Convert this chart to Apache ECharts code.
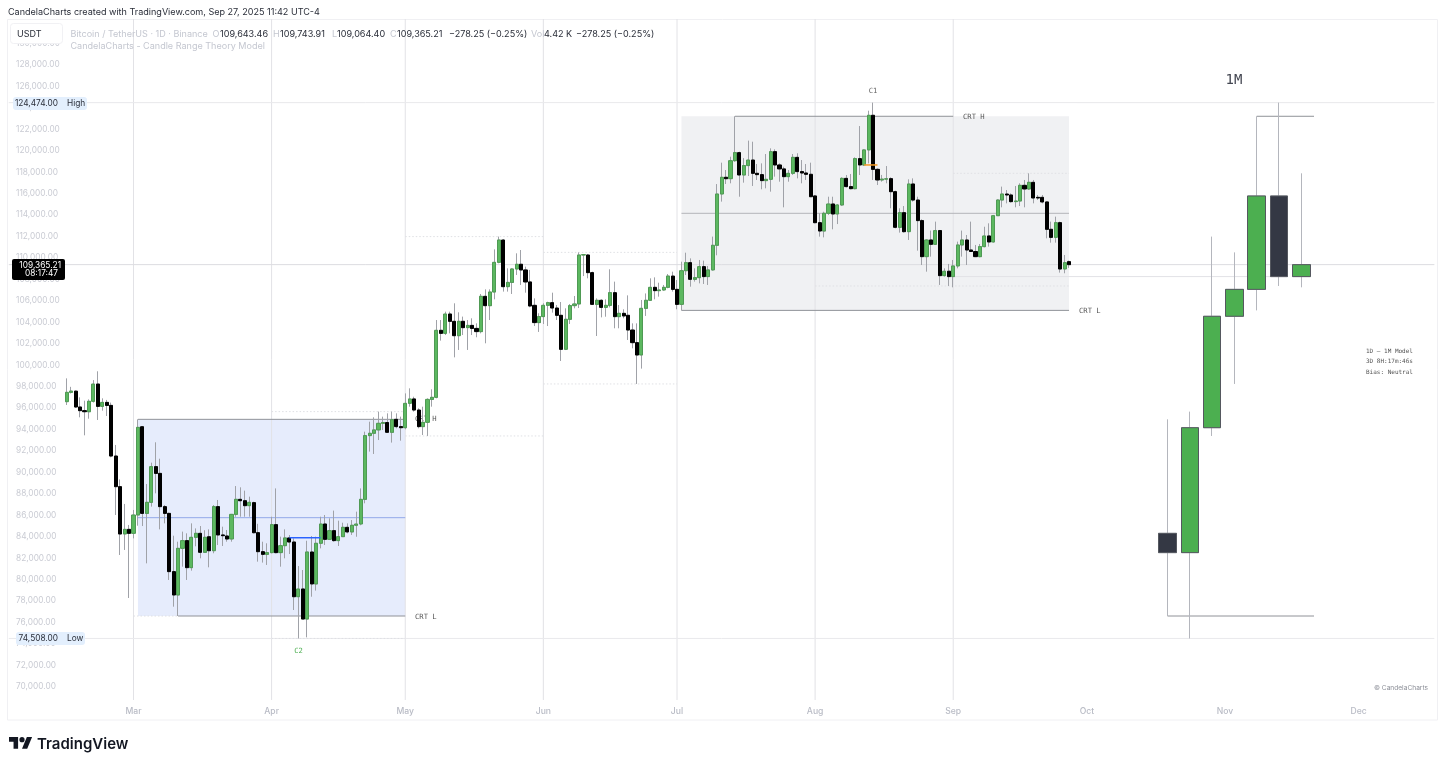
<!DOCTYPE html>
<html><head><meta charset="utf-8">
<style>html,body{margin:0;padding:0;background:#fff}#c{width:1445px;height:766px}</style>
<script src="https://cdn.jsdelivr.net/npm/echarts@6/dist/echarts.min.js"></script>
</head><body><div id="c"></div>
<script>
// Daily candles, 14 Feb 2025 .. 27 Sep 2025
const firstCandleDate = '2025-02-14';
const dailyOpen = [
96587,97457,97570,96090,95750,95650,96620,98230,96150,96520,96240,91520,88660,84250,84680,
84310,86020,94250,86170,87200,90530,89900,86800,86170,80740,78560,82910,83630,81110,83940,84310,82540,83990,82690,86800,84160,84060,83780,86080,87480,87350,86890,87170,84370,82600,82350,
82510,85120,82510,83160,83880,83500,78400,79120,76320,82570,79590,83380,85180,83750,84560,83630,84000,84870,84440,85060,85180,87480,93420,93640,93950,94570,94640,93730,94940,94260,
94160,96430,96840,95810,94260,94660,96800,96990,103240,102960,104760,104080,102740,104080,103490,103700,103420,103120,106410,105540,106810,109580,111660,107310,107710,108960,109400,108870,107750,105570,103960,
104520,105570,105820,105320,104640,101470,104270,105540,105700,110260,110260,108620,105660,106040,105380,105570,106750,104515,104825,104640,103270,102090,100940,105290,106040,107250,106940,107000,107250,108300,
107060,105660,108800,109550,107995,108150,109180,108250,108870,111170,115950,117510,117380,119060,119810,117725,118600,119120,117880,117760,117200,117320,119900,118660,118290,117570,117880,119370,118040,117910,117790,
115770,113280,112500,114150,115020,114090,114930,117410,116640,116450,119250,118660,120060,123290,118250,117260,117340,117380,116170,112845,114210,112440,116885,115390,113470,110110,111665,111260,112540,108340,108750,
108250,109240,111200,111665,110730,110590,110110,111045,112040,111480,113930,115390,115950,115860,115240,115300,116760,116420,117040,115640,115640,115210,112660,111910,113280,108960,109643];
const dailyClose = [
97457,97570,96090,95750,95650,96620,98230,96150,96520,96240,91520,88660,84250,84680,84310,
86020,94190,86170,87200,90530,89900,86800,86170,80740,78560,82910,83630,81110,83940,84310,82540,83940,82690,86800,84160,84090,83780,86080,87480,87350,86890,87200,84370,82600,82350,82510,
85120,82510,83160,83880,83500,78400,79120,76320,82570,79590,83380,85180,83750,84560,83630,84000,84870,84440,85060,85180,87480,93420,93640,93950,94570,94640,93730,94910,94260,94160,
96430,96840,95810,94260,94660,96800,96990,103240,102960,104760,104080,102740,104080,103490,103700,103420,103120,106410,105540,106810,109580,111660,107310,107710,108960,109400,108870,107750,105510,103960,104520,
105570,105820,105320,104640,101470,104270,105540,105700,110260,110300,108620,105660,106040,105380,105570,106750,104515,104825,104580,103270,102090,100940,105290,106040,107250,106940,107000,107250,108300,107060,
105660,108800,109550,107995,108150,109180,108250,108870,111170,115950,117510,117380,119060,119810,117725,118600,119120,117880,117760,117200,117320,119900,118660,118290,117570,117880,119370,118040,117910,117790,115700,
113280,112500,114150,115020,114090,114930,117410,116640,116450,119250,118660,120060,123290,118250,117260,117340,117370,116170,112845,114210,112440,116885,115390,113470,110110,111665,111260,112540,108340,108750,108250,
109240,111200,111665,110730,110590,110110,111045,112040,111480,113930,115390,115950,115860,115240,115300,116760,116420,117040,115580,115580,115210,112660,111910,113280,108960,109550,109365];
const dailyLow = [
96276,97350,96000,95130,93450,95000,96500,94880,95750,95250,91400,86020,82290,82760,78280,
83840,85020,84990,81510,86800,88040,84680,85240,79960,77470,76600,81200,79960,80830,83100,81980,82500,81140,82450,83220,83130,83530,83530,85860,85860,85860,85860,84300,81670,81580,81360,
82450,82450,81200,81980,82380,77160,74508,76320,74610,78400,78970,82910,83220,83690,83530,83130,83990,84310,84160,83990,85060,87110,91930,91710,93010,93950,93730,92770,94100,92950,
94010,96120,95660,94100,93480,93390,96120,96900,102280,102800,102960,100720,101410,102800,101410,102800,102590,102960,102030,104200,106130,109490,106850,106850,106630,108400,107470,106750,105390,103640,103090,
103830,103640,104890,104200,100380,101400,103830,105290,105320,108300,108090,105600,102710,104450,104510,105380,103430,103430,104360,102340,101560,98240,99670,104580,106010,106130,106380,106940,107160,106850,
105200,105100,108400,107310,107780,107620,107560,107470,108810,110235,115240,116885,116950,118950,115700,117010,117630,116700,117260,116390,116480,116170,117570,117100,114710,117100,117730,117410,116950,117260,115700,
113220,111975,111910,113990,112660,113150,114830,116570,116390,116390,117725,118560,118810,117260,116790,117100,116950,114620,112750,112350,112350,111665,115240,110670,109330,108710,110110,111200,107470,108250,107375,
107250,109020,110110,109330,110580,110110,110050,110980,111045,111420,113900,114710,115080,115150,114710,114830,114710,116325,115080,115390,115080,111820,111415,111415,108620,108560,109064];
const dailyHigh = [
98760,97970,97600,96990,96680,96800,98600,99420,96900,96750,96500,92550,89340,87050,85090,
86490,94940,94320,88910,90900,92800,91270,86950,86240,84090,83530,84470,84310,85240,84770,84990,84600,84680,86950,87420,84930,84620,86100,88720,88600,88290,87730,87260,85200,83530,83380,
85860,88500,84000,84680,84150,83840,81260,80890,83620,84060,84000,85860,86020,85710,86430,85490,85300,85240,85550,86330,88500,93790,94720,95130,95660,95190,95500,95660,95500,95190,
97360,97830,97050,95970,96120,96900,97740,104200,104200,104980,104980,105760,104920,104520,104200,104360,103890,106630,107060,107060,110790,111980,111730,109020,109020,110420,110730,109180,108870,106220,104830,
105760,105910,106750,105600,105880,105290,105690,106440,110510,110300,110360,108710,106220,106130,106130,108930,107780,105600,105200,106500,103890,103890,106070,106680,108090,108180,107680,107470,108490,108710,
107930,109640,110480,109950,109020,109800,109740,109240,111980,116880,118875,118190,119430,123200,119900,119300,120930,120830,118750,118810,119680,120210,120120,118810,118500,118190,119680,119750,119120,118750,118875,
115860,114150,114300,115700,115700,115020,117510,117725,117820,119370,122290,120120,123720,124474,118350,117730,118560,117510,116260,114620,114830,117320,117410,115700,113590,111730,112540,113375,112600,109020,109430,
109800,111510,112540,112130,113375,111200,111290,112900,113220,114000,115460,116640,116320,116010,116700,116950,117260,117880,117260,115860,115860,115240,113375,113840,113375,110265,109744];

// Monthly candles shown on the right
const monthNames = ['Mar','Apr','May','Jun','Jul','Aug','Sep'];
const monthOpen  = [84310,82510,94160,104550,107060,115770,108250];
const monthClose = [82510,94160,104550,107060,115770,108250,109365];
const monthLow   = [76600,74508,93390,98240,105100,107375,107250];
const monthHigh  = [94940,95660,111980,110510,123200,124474,117880];

// Levels
const crtBlue = {from:'2025-03-02', to:'2025-05-01', high:94940, low:76600, mid:85770};
const crtGray = {from:'2025-07-02', to:'2025-09-27', high:123200, low:105100, mid:114150};
const solidLevels = [
  ['2025-03-02','2025-05-01',94940],['2025-03-11','2025-05-01',76600],
  ['2025-07-14','2025-09-01',123200],['2025-07-02','2025-09-27',105100]];
const dottedLevels = [
  ['2025-03-01','2025-03-11',76600],['2025-04-01','2025-05-01',95660],['2025-04-01','2025-05-01',74508],
  ['2025-05-01','2025-06-01',111980],['2025-05-01','2025-06-01',93390],
  ['2025-06-01','2025-07-01',110510],['2025-06-01','2025-07-01',98240],
  ['2025-08-01','2025-09-27',107375],['2025-09-01','2025-09-27',117880]];
const blueStub = ['2025-04-05','2025-04-12',83900];
const orangeStub = ['2025-08-12','2025-08-15',118660];
const priceHigh = 124474, priceLow = 74508, priceLast = 109365.21, prevMonthOpen = 108250;
const monthStarts = ['2025-03-01','2025-04-01','2025-05-01','2025-06-01','2025-07-01','2025-08-01','2025-09-01'];
const axisMonths = ['Mar','Apr','May','Jun','Jul','Aug','Sep','Oct','Nov','Dec'];

// Category dates
const MS = 86400000, iso = t => new Date(t).toISOString().slice(0,10);
const dates = []; for (let i=0;i<321;i++) dates.push(iso(Date.UTC(2025,1,1)+i*MS));
const startIdx = dates.indexOf(firstCandleDate);
const empty = ['-','-','-','-'];
const candleRows = dates.map((d,i)=>{const k=i-startIdx; return (k>=0&&k<dailyOpen.length)?[dailyOpen[k],dailyClose[k],dailyLow[k],dailyHigh[k]]:empty;});
const bodyRows = candleRows.map(r=>r[0]==='-'?empty:[r[0],r[1],Math.min(r[0],r[1]),Math.max(r[0],r[1])]);

// Scale: 128,000 at y=64.8, 0.010724 px per USD
const yMin=68000, yMax=134000, pxPer=0.010724;
const gridTop = 64.8-(yMax-128000)*pxPer, gridH=(yMax-yMin)*pxPer;
const band=4.455, gridLeft=133.5-28.5*band, gridW=321*band;
const segs = list=>{const o=[];list.forEach(s=>{o.push([s[0],s[2]],[s[1],s[2]],[s[1],null]);});return o;};
const lineSeries=(name,data,color,width,type,z)=>({name,type:'line',data,showSymbol:false,silent:true,connectNulls:false,z:z==null?1:z,animation:false,lineStyle:{color,width,type:type||'solid'}});

const firstDate=dates[0], lastDate=dates[dates.length-1];
const vertical=[]; monthStarts.forEach(d=>vertical.push([d,68770],[d,132270],[d,null]));
const fnt='Inter, "Noto Sans", sans-serif', mono='"DejaVu Sans Mono", monospace';
const T=(x,y,text,fill,size,o)=>Object.assign({type:'text',x,y,z:100,silent:true,style:{text,fill,font:(o&&o.weight||'400')+' '+size+'px '+(o&&o.fam||fnt),textAlign:o&&o.align||'left',textVerticalAlign:'middle'}},o&&o.z?{z:o.z}:{});
const legendGray='#c4c7d0', dark='#2a2e39';
const logoX=9, logoY=734.5, logoK=0.65;
const poly=pts=>({type:'polygon',z:100,silent:true,shape:{points:pts.map(p=>[logoX+p[0]*logoK,logoY+p[1]*logoK])},style:{fill:'#131722'}});

const graphics=[
 {type:'rect',z:0,silent:true,shape:{x:7.5,y:19.5,width:1430,height:700.5},style:{fill:'none',stroke:'#f0f0f3',lineWidth:1}},
 T(8,12,'CandelaCharts created with TradingView.com, Sep 27, 2025 11:42 UTC-4','#2a2e39',9.05),
 {type:'rect',z:99,silent:true,shape:{x:10.5,y:23.5,width:52,height:20,r:3},style:{fill:'#fff',stroke:'#f1f1f4',lineWidth:1}},
 T(17,34,'USDT','#2a2e39',9),
 T(70.5,34,'Bitcoin / TetherUS · 1D · Binance',legendGray,9.05),
 T(212.5,34,'O',legendGray,9.05),T(220,34,'109,643.46',dark,9.05),
 T(273,34,'H',legendGray,9.05),T(280,34,'109,743.91',dark,9.05),
 T(332,34,'L',legendGray,9.05),T(337,34,'109,064.40',dark,9.05),
 T(390,34,'C',legendGray,9.05),T(397,34,'109,365.21',dark,9.05),
 T(449,34,'−278.25 (−0.25%)',dark,9.05),
 T(531,34,'Vol',legendGray,9.05),T(544,34,'4.42 K',dark,9.05),
 T(576,34,'−278.25 (−0.25%)',dark,9.05),
 T(70.5,46,'CandelaCharts - Candle Range Theory Model',legendGray,9.05),
 // High / Low / last pills
 {type:'rect',z:99,silent:true,shape:{x:13,y:97,width:74,height:13,r:3},style:{fill:'#e3effd'}},
 T(58,103.5,'124,474.00',dark,8.3,{align:'right'}),T(67,104,'High',dark,8.3),
 {type:'rect',z:99,silent:true,shape:{x:16,y:632,width:69,height:13,r:3},style:{fill:'#e3effd'}},
 T(58,638.5,'74,508.00',dark,8.3,{align:'right'}),T(67,639,'Low',dark,8.3),
 {type:'rect',z:99,silent:true,shape:{x:12,y:259,width:53,height:21,r:2},style:{fill:'#000'}},
 T(61,265.5,'109,365.21','#fff',8.3,{align:'right'}),T(58,274,'08:17:47','#fff',8.3,{align:'right'}),
 // annotations
 T(963,117,'CRT H','#555',7.2,{fam:mono}),T(1079,311,'CRT L','#555',7.2,{fam:mono}),
 T(415,617,'CRT L','#555',7.2,{fam:mono}),T(415,419,'CRT H','#555',7.2,{fam:mono,z:1}),
 T(873,91,'C1','#666',7.2,{fam:mono,align:'center'}),T(298.5,651,'C2','#4caf50',7.2,{fam:mono,align:'center'}),
 T(1234,80,'1M','#434651',14,{fam:mono,align:'center'}),
 T(1366,351,'1D – 1M Model','#555',6,{fam:mono}),T(1366,361.5,'3D 8H:17m:46s','#555',6,{fam:mono}),T(1366,372,'Bias: Neutral','#555',6,{fam:mono}),
 T(1428,688.5,'© CandelaCharts','#8a8d96',6.6,{align:'right'}),
 // TradingView logo
 poly([[0,4],[14,4],[14,22],[7,22],[7,11],[0,11]]),
 poly([[20,22],[28,22],[35.5,4],[27.5,4]]),
 {type:'circle',z:100,silent:true,shape:{cx:logoX+20*logoK,cy:logoY+8*logoK,r:4*logoK},style:{fill:'#131722'}},
 T(37,744,'TradingView','#131722',15,{weight:'600'})
];

const chart=echarts.init(document.getElementById('c'),null,{renderer:'canvas'});
chart.setOption({
 animation:false,backgroundColor:'#fff',
 grid:[{left:gridLeft,top:gridTop,width:gridW,height:gridH},
       {left:1167.5-22.3,top:gridTop,width:22.3*8,height:gridH}],
 xAxis:[
  {type:'category',data:dates,gridIndex:0,boundaryGap:true,
   axisLine:{show:false},axisTick:{show:false},splitLine:{show:false},
   axisLabel:{interval:(i,v)=>v>='2025-03-01'&&v.slice(8)==='01',hideOverlap:false,margin:3,verticalAlign:'middle',
     formatter:v=>axisMonths[+v.slice(5,7)-3],color:'#b8bbc5',fontSize:8.6,fontFamily:fnt,fontWeight:500}},
  {type:'value',gridIndex:1,min:-1,max:7,show:false,splitLine:{show:false}}],
 yAxis:[
  {type:'value',gridIndex:0,min:yMin,max:yMax,interval:2000,
   axisLine:{show:false},axisTick:{show:false},splitLine:{show:false},
   axisLabel:{inside:true,margin:9.5,color:'#c9cbd3',fontSize:8.3,fontFamily:fnt,
     formatter:v=>(v<70000||v>130000)?'':v.toLocaleString('en-US',{minimumFractionDigits:2,maximumFractionDigits:2})}},
  {type:'value',gridIndex:1,min:yMin,max:yMax,show:false,splitLine:{show:false}}],
 graphic:{elements:graphics},
 series:[
  // regions
  Object.assign(lineSeries('blue region',[[crtBlue.from,crtBlue.low],[crtBlue.to,crtBlue.low]],'#e6ecfc',0,'solid',0),{markArea:{silent:true,itemStyle:{color:'#e6ecfc'},data:[[{xAxis:crtBlue.from,yAxis:crtBlue.high},{xAxis:crtBlue.to,yAxis:crtBlue.low}]]}}),
  Object.assign(lineSeries('gray region',[[crtGray.from,crtGray.low],[crtGray.to,crtGray.low]],'#f0f1f3',0,'solid',0),{markArea:{silent:true,itemStyle:{color:'#f0f1f3'},data:[[{xAxis:crtGray.from,yAxis:crtGray.high},{xAxis:crtGray.to,yAxis:crtGray.low}]]}}),
  lineSeries('month lines',vertical,'#e2e2e6',1),
  lineSeries('high',[[firstDate,priceHigh],[lastDate,priceHigh]],'#e9e9ec',1),
  lineSeries('low',[[firstDate,priceLow],[lastDate,priceLow]],'#e9e9ec',1),
  lineSeries('last',[[firstDate,priceLast],[lastDate,priceLast]],'#dcdce0',1),
  lineSeries('open',[['2025-09-01',prevMonthOpen],['2025-11-15',prevMonthOpen]],'#e2e2e6',1),
  lineSeries('dotted',segs(dottedLevels),'#dfe0e4',1,[1.5,2]),
  lineSeries('blue mid',[[crtBlue.from,crtBlue.mid],[crtBlue.to,crtBlue.mid]],'#93a9e8',1),
  lineSeries('gray mid',[[crtGray.from,crtGray.mid],[crtGray.to,crtGray.mid]],'#b4b5b9',1),
  lineSeries('solid',segs(solidLevels),'#909298',1),
  lineSeries('blue stub',[[blueStub[0],blueStub[2]],[blueStub[1],blueStub[2]]],'#2962ff',1.5,'solid',5),
  lineSeries('orange stub',[[orangeStub[0],orangeStub[2]],[orangeStub[1],orangeStub[2]]],'#f59a23',1.5,'solid',5),
  // Daily candles: gray wicks underneath, then green and black bodies on top
  {name:'BTCUSDT 1D',type:'candlestick',data:candleRows,barWidth:3,z:3,silent:true,
   itemStyle:{color:'#4caf50',color0:'#000',borderColor:'#a0a2a8',borderColor0:'#a0a2a8',borderWidth:1}},
  {name:'daily bodies',type:'candlestick',data:bodyRows,barWidth:3.6,z:4,silent:true,
   itemStyle:{color:'#5cb860',color0:'#000',borderColor:'#4f9a54',borderColor0:'#000',borderWidth:1}},
  // Monthly candles
  {name:'BTCUSDT 1M',type:'candlestick',xAxisIndex:1,yAxisIndex:1,barWidth:18,z:3,silent:true,encode:{x:0,y:[1,2,3,4]},
   data:monthNames.map((m,i)=>[i,monthOpen[i],monthClose[i],monthLow[i],monthHigh[i]]),
   itemStyle:{color:'#4caf50',color0:'#343844',borderColor:'#b4b6bd',borderColor0:'#b4b6bd',borderWidth:1}},
  {name:'1M bodies',type:'candlestick',xAxisIndex:1,yAxisIndex:1,barWidth:18,z:4,silent:true,encode:{x:0,y:[1,2,3,4]},
   data:monthNames.map((m,i)=>[i,monthOpen[i],monthClose[i],Math.min(monthOpen[i],monthClose[i]),Math.max(monthOpen[i],monthClose[i])]),
   itemStyle:{color:'#4caf50',color0:'#343844',borderColor:'#55585f',borderColor0:'#55585f',borderWidth:1}},
  Object.assign(lineSeries('1M high',[[4,monthHigh[4]],[6.57,monthHigh[4]]],'#909298',1),{xAxisIndex:1,yAxisIndex:1}),
  Object.assign(lineSeries('1M low',[[0,monthLow[0]],[6.57,monthLow[0]]],'#909298',1),{xAxisIndex:1,yAxisIndex:1})
 ]
});
</script></body></html>
